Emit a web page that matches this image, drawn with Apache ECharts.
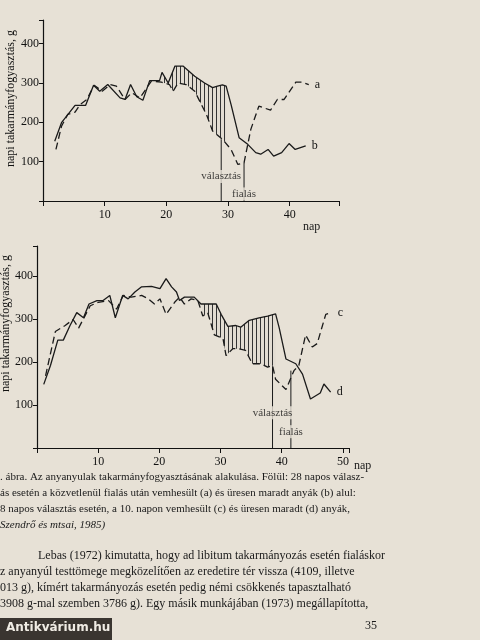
<!DOCTYPE html>
<html><head><meta charset="utf-8">
<script src="https://cdn.jsdelivr.net/npm/echarts@6/dist/echarts.min.js"></script>
<style>html,body{margin:0;padding:0;background:#e7e1d6;}#c{width:480px;height:640px;}</style>
</head><body><div id="c"></div>
<script>
// Top chart: 28-day weaning
const aX=[2.1,3,4,5.2,6,7.1,8.3,9.6,10.9,11.9,13.3,14.4,15.7,17.6,19.2,20.5,21.1,21.9,23.2,24.6,26.5,27.5,29.1,30.5,31.6,32.6,33.7,35,36.9,38,39.1,41,42,43.1];
const aY=[131,190,220,226,245,258,294,279,296,292,258,275,262,305,302,296,279,300,296,279,220,178,157,131,93,97,182,241,231,258,258,302,302,296];
const bX=[1.9,3,5.2,6.9,8.2,9.2,10.5,12.5,13.3,14.2,15.2,16.2,17.3,18.9,19.3,20.3,21.4,22.7,24.6,26.2,27.5,28.3,29.1,29.7,30.5,31.8,33.2,34.5,35.3,36.5,37.4,38.7,39.9,40.9,42.6];
const bY=[152,199,243,243,294,279,296,262,258,296,265,256,306,306,327,300,343,343,317,300,288,292,295,292,245,161,144,123,119,131,114,123,146,131,140];
// Bottom chart: 38-day weaning
const cX=[1.4,3,4.6,5.9,6.8,8.7,10,11.7,13,14.1,15.4,17.1,18.2,19.2,20.1,21.1,22.5,23.3,24.1,25.2,26.3,27.1,27.9,29,30.4,30.9,32,33,34.1,35.2,36.6,37.7,38.5,39,40.7,42,42.8,43.9,45,45.8,47.2,48.2];
const cY=[168,271,285,299,279,331,339,343,323,355,351,355,347,335,347,311,339,351,335,347,343,307,315,263,255,215,231,231,227,196,196,188,192,160,136,180,192,263,235,243,311,315];
const dX=[1.1,2.2,3.4,4.3,5.4,6.5,7.6,8.5,9.8,10.8,11.9,12.8,14,14.9,16,17.1,18.7,20.1,21.1,22,22.8,23.3,24.1,25.7,26.8,27.9,29.3,30.1,31.2,32.5,33.3,34.7,36.3,37.7,39,39.6,40.7,42.3,43.4,44.7,46.3,46.9,48];
const dY=[148,192,251,251,285,315,303,335,343,343,355,303,355,347,363,375,376,371,394,375,363,343,351,351,335,335,335,311,283,285,281,297,303,307,312,279,207,196,172,114,128,149,130];
const topTicks=[10,20,30,40], botTicks=[10,20,30,40,50], yTicks=[100,200,300,400];
const topMarkers=[{name:'választás',day:28.9,top:157,lab:62},{name:'fialás',day:32.6,top:97,lab:18}];
const botMarkers=[{name:'választás',day:38.5,top:190,lab:82},{name:'fialás',day:41.5,top:180,lab:38}];
const topHatch=[19.3,29.7], botHatch=[27.0,39.0];

const zip=(x,y)=>x.map((v,i)=>[v,y[i]]);
function interp(X,Y,t){for(let i=0;i<X.length-1;i++){if(t>=X[i]&&t<=X[i+1]){const f=(t-X[i])/(X[i+1]-X[i]);return Y[i]+f*(Y[i+1]-Y[i]);}}return Y[Y.length-1];}
const pc=document.createElement('canvas');pc.width=4;pc.height=4;const pg=pc.getContext('2d');
pg.fillStyle='#e2dcd2';pg.fillRect(0,0,4,4);pg.fillStyle='#333';pg.fillRect(0,0,1,4);
function hatchSeries(xi,yi,upX,upY,loX,loY,rng){
  return {type:'custom',xAxisIndex:xi,yAxisIndex:yi,data:[0],z:1,silent:true,renderItem:(p,api)=>{
    const pts=[];const xs=new Set([rng[0],rng[1]]);
    upX.concat(loX).forEach(v=>{if(v>rng[0]&&v<rng[1])xs.add(v);});
    const s=[...xs].sort((a,b)=>a-b);
    s.forEach(t=>pts.push(api.coord([t,interp(upX,upY,t)])));
    s.slice().reverse().forEach(t=>pts.push(api.coord([t,interp(loX,loY,t)])));
    return {type:'polygon',shape:{points:pts},style:{fill:{image:pc,repeat:'repeat'},stroke:null}};
  }};
}
const ln=(xi,yi,X,Y,dash,lab)=>({type:'line',xAxisIndex:xi,yAxisIndex:yi,data:zip(X,Y),symbol:'none',z:3,
  lineStyle:{color:'#1a1a1a',width:1.3,type:dash?[7,4]:'solid'},
  endLabel:{show:true,formatter:lab,fontFamily:'Liberation Serif',fontSize:12,color:'#111',distance:6}});
function markerSeries(xi,yi,ms){
  const out=[];
  ms.forEach(m=>{
    out.push({type:'line',xAxisIndex:xi,yAxisIndex:yi,data:[[m.day,0],[m.day,m.top]],symbol:'none',lineStyle:{color:'#1a1a1a',width:1},z:2});
    out.push({type:'scatter',xAxisIndex:xi,yAxisIndex:yi,data:[[m.day,m.lab]],symbolSize:0,
      label:{show:true,formatter:m.name,position:'inside',fontFamily:'Liberation Serif',fontSize:11,color:'#111',backgroundColor:'#e7e1d6',padding:[1,1]}});
  });
  return out;
}
const serif='Liberation Serif';
function xAx(gi,max,ticks){return {type:'value',gridIndex:gi,min:0,max:max,interval:10,
  axisLine:{lineStyle:{color:'#111',width:1.2}},axisTick:{show:true,inside:false,length:5,lineStyle:{color:'#111'}},
  splitLine:{show:false},axisLabel:{fontFamily:serif,fontSize:12,color:'#111',formatter:v=>ticks.includes(v)?String(v):''}};}
function yAx(gi,max){return {type:'value',gridIndex:gi,min:0,max:max,interval:100,
  axisLine:{show:true,lineStyle:{color:'#111',width:1.2}},axisTick:{show:true,length:4,lineStyle:{color:'#111'}},
  splitLine:{show:false},axisLabel:{margin:4,fontFamily:serif,fontSize:12,color:'#111',formatter:v=>yTicks.includes(v)?String(v):''}};}
const ch=echarts.init(document.getElementById('c'));
const T=(x,y,t,o={})=>({type:'text',left:x,top:y,style:Object.assign({text:t,font:'11px "Liberation Serif"',fill:'#1a1a1a'},o)});
ch.setOption({
  backgroundColor:'#e7e1d6',animation:false,
  grid:[{left:43,right:141,top:20,bottom:439},{left:37,right:131,top:246,bottom:192}],
  xAxis:[xAx(0,48,topTicks),xAx(1,51,botTicks)],
  yAxis:[yAx(0,460),yAx(1,470)],
  series:[hatchSeries(0,0,bX,bY,aX,aY,topHatch),ln(0,0,aX,aY,true,'a'),ln(0,0,bX,bY,false,'b'),
    hatchSeries(1,1,dX,dY,cX,cY,botHatch),ln(1,1,cX,cY,true,'c'),ln(1,1,dX,dY,false,'d')]
    .concat(markerSeries(0,0,topMarkers)).concat(markerSeries(1,1,botMarkers)),
  graphic:[
    {type:'text',left:5,top:30,rotation:Math.PI/2,style:{text:'napi takarmányfogyasztás, g',font:'12px "Liberation Serif"',fill:'#111'}},
    {type:'text',left:0,top:255,rotation:Math.PI/2,style:{text:'napi takarmányfogyasztás, g',font:'12px "Liberation Serif"',fill:'#111'}},
    T(303,221,'nap',{font:'12px "Liberation Serif"'}),
    T(354,460,'nap',{font:'12px "Liberation Serif"'}),
    T(0,472,'. ábra. Az anyanyulak takarmányfogyasztásának alakulása. Fölül: 28 napos válasz-'),
    T(0,488,'ás esetén a közvetlenül fialás után vemhesült (a) és üresen maradt anyák (b) alul:'),
    T(0,504,'8 napos választás esetén, a 10. napon vemhesült (c) és üresen maradt (d) anyák,'),
    T(0,520,'Szendrő és mtsai, 1985)',{font:'italic 11px "Liberation Serif"'}),
    T(38,550,'Lebas (1972) kimutatta, hogy ad libitum takarmányozás esetén fialáskor',{font:'12px "Liberation Serif"'}),
    T(0,566,'z anyanyúl testtömege megközelítően az eredetire tér vissza (4109, illetve',{font:'12px "Liberation Serif"'}),
    T(0,582,'013 g), kímért takarmányozás esetén pedig némi csökkenés tapasztalható',{font:'12px "Liberation Serif"'}),
    T(0,598,'3908 g-mal szemben 3786 g). Egy másik munkájában (1973) megállapította,',{font:'12px "Liberation Serif"'}),
    T(365,620,'35',{font:'12px "Liberation Serif"'}),
    {type:'rect',left:0,top:618,shape:{width:112,height:22},style:{fill:'#3a3530'}},
    T(6,622,'Antikvárium.hu',{font:'bold 12px "DejaVu Sans"',fill:'#f0ece4'})
  ]
});
</script></body></html>
